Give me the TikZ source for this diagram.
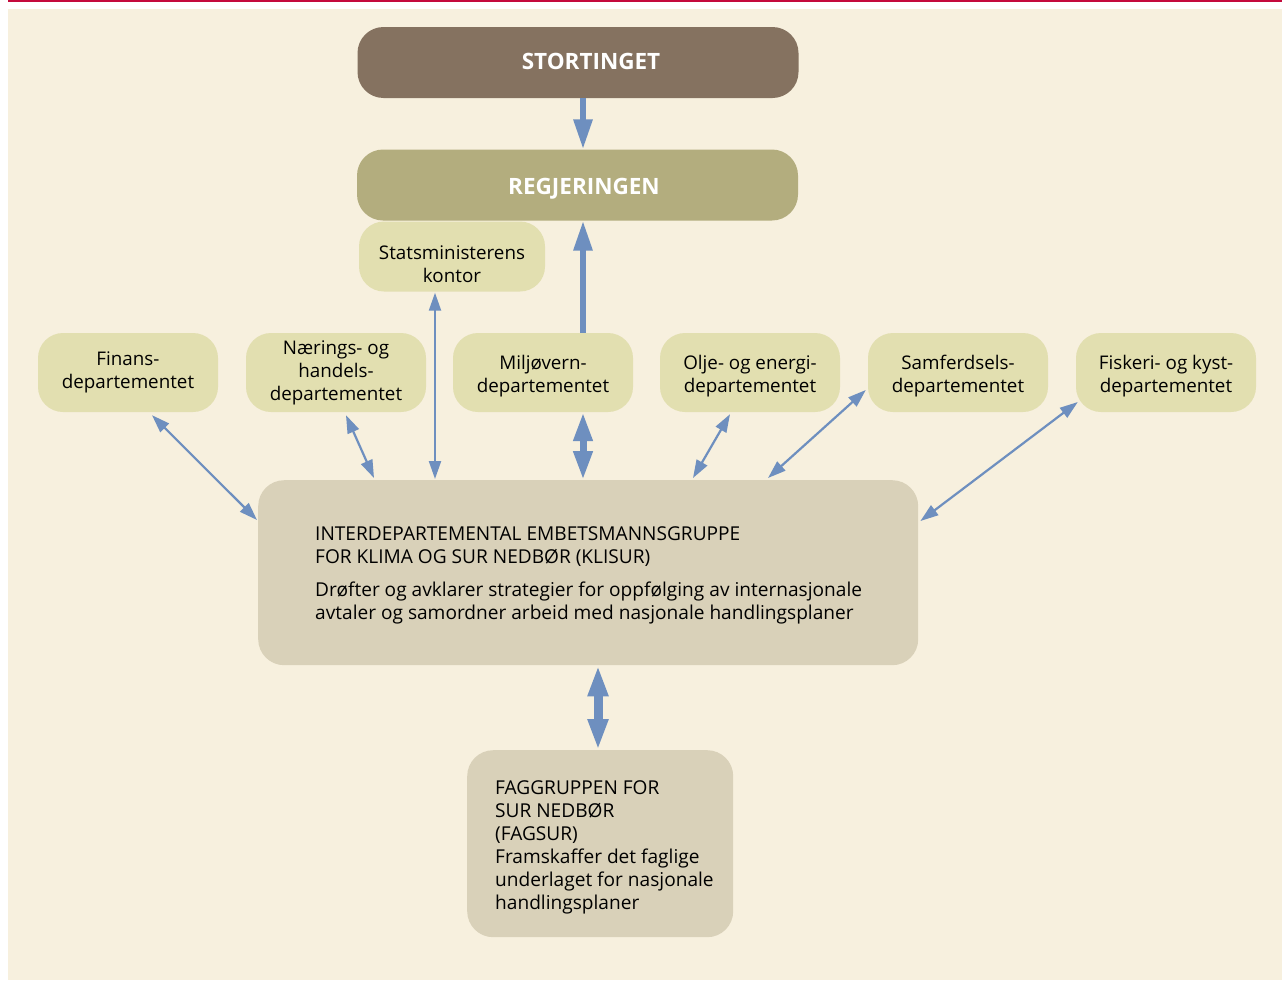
\documentclass[tikz,border=0pt]{standalone}
\usepackage{fontspec}
\setmainfont{Open Sans}
\usetikzlibrary{arrows.meta}
\definecolor{bgc}{RGB}{247,240,222}
\definecolor{redl}{RGB}{196,10,60}
\definecolor{storc}{RGB}{133,114,96}
\definecolor{regc}{RGB}{179,173,126}
\definecolor{deptc}{RGB}{226,223,176}
\definecolor{idec}{RGB}{217,209,185}
\definecolor{arrc}{RGB}{110,143,191}
\begin{document}
\begin{tikzpicture}[x=1pt,y=-1pt,
  every node/.style={font=\fontsize{18.8}{23}\selectfont},
  topbox/.style={rectangle, rounded corners=26pt, minimum width=441pt, minimum height=71pt, inner sep=0pt},
  titletext/.style={text=white, font=\fontsize{22.5}{23}\selectfont\bfseries, inner sep=0pt, anchor=base},
  deptbox/.style={rectangle, rounded corners=25pt, fill=deptc, minimum width=180pt, minimum height=79pt, align=center, inner sep=0pt},
  lowered/.style={text height=45.3pt},
  bigbox/.style={rectangle, rounded corners=26pt, fill=idec, anchor=north west, inner sep=0pt},
  bigtext/.style={align=left, anchor=west, inner sep=0pt, font=\fontsize{19.1}{23}\selectfont},
  thinarrow/.style={draw=arrc, line width=2.2pt, {Triangle[width=12pt,length=18pt]}-{Triangle[width=12pt,length=18pt]}},
  thickarrow/.style={draw=arrc, line width=6pt, -{Triangle[width=18pt,length=30pt]}},
  thickdouble/.style={draw=arrc, line width=7pt, {Triangle[width=18pt,length=29pt]}-{Triangle[width=18pt,length=29pt]}},
  fatdouble/.style={draw=arrc, line width=9pt, {Triangle[width=19pt,length=31pt]}-{Triangle[width=19pt,length=31pt]}}
]
\useasboundingbox (0,0) rectangle (1282,980);
\fill[white] (0,0) rectangle (1282,980);
\fill[bgc] (8,9) rectangle (1282,980);
\fill[redl] (8,0) rectangle (1282,2);

% top boxes
\node[topbox, fill=storc] (sto) at (578,62.5) {};
\node[titletext] (stot) at (591,69) {STORTINGET};
\node[topbox, fill=regc] (reg) at (577.5,185) {};
\node[titletext] (regt) at (584,194.5) {REGJERINGEN};
\node[deptbox, minimum width=186pt, minimum height=70pt] (stm) at (452,256.5) {};
\node[align=center, inner sep=0pt] (stmt) at (452,264.5) {Statsministerens\\kontor};

% departments
\node[deptbox] (fin) at (128,372.5) {Finans-\\departementet};
\node[deptbox] (nae) at (336,372.5) {Nærings- og\\handels-\\departementet};
\node[deptbox, lowered] (mil) at (543,372.5) {Miljøvern-\\departementet};
\node[deptbox, lowered] (olj) at (750,372.5) {Olje- og energi-\\departementet};
\node[deptbox, lowered] (sam) at (958,372.5) {Samferdsels-\\departementet};
\node[deptbox, lowered] (fis) at (1166,372.5) {Fiskeri- og kyst-\\departementet};

% interdepartmental group
\node[bigbox, minimum width=660pt, minimum height=185pt] (ide) at (258,480) {};
\node[bigtext] (idet) at (315,575)
  {INTERDEPARTEMENTAL EMBETSMANNSGRUPPE\\FOR KLIMA OG SUR NEDBØR (KLISUR)\\[10pt]Drøfter og avklarer strategier for oppfølging av internasjonale\\avtaler og samordner arbeid med nasjonale handlingsplaner};

% faggruppen
\node[bigbox, minimum width=266pt, minimum height=187pt] (fag) at (467,750) {};
\node[bigtext] (fagt) at (495,847.5)
  {FAGGRUPPEN FOR\\SUR NEDBØR\\(FAGSUR)\\Framskaffer det faglige\\underlaget for nasjonale\\handlingsplaner};

% connectors
\draw[thickarrow] ([xshift=5pt]sto.south) -- ([xshift=5.5pt]reg.north);
\draw[thickarrow] ([xshift=40pt]mil.north) -- ([xshift=5.5pt]reg.south);
\draw[thickdouble] ([xshift=40pt]mil.south) -- ([xshift=325pt]ide.north west);
\draw[thinarrow] ([shift={(-17,1)}]stm.south) -- ([shift={(177,-1)}]ide.north west);
\draw[thinarrow] ([shift={(24,3)}]fin.south) -- ([shift={(-1,40)}]ide.north west);
\draw[thinarrow] ([shift={(10,3)}]nae.south) -- ([shift={(116,-2)}]ide.north west);
\draw[thinarrow] ([shift={(-20,2)}]olj.south) -- ([shift={(435,-2)}]ide.north west);
\draw[thinarrow] ([shift={(-2,17.5)}]sam.west) -- ([shift={(510,-2)}]ide.north west);
\draw[thinarrow] ([shift={(2,29.5)}]fis.west) -- ([shift={(2,41)}]ide.north east);
\draw[fatdouble] ([xshift=340pt]ide.south west) -- ([xshift=131pt]fag.north west);
\end{tikzpicture}
\end{document}
